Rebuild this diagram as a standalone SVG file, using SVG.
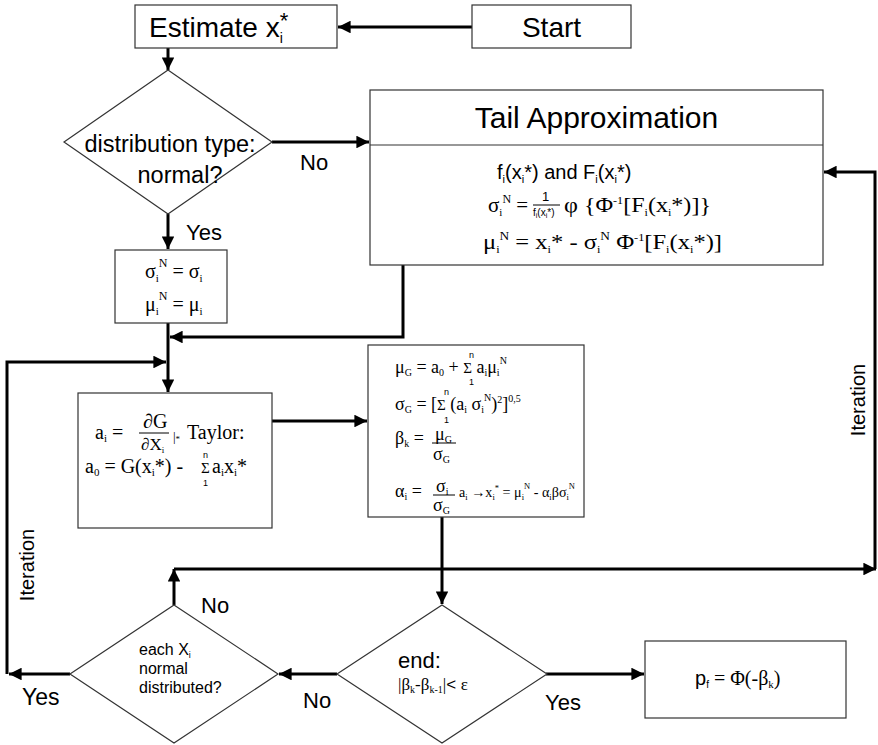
<svg xmlns="http://www.w3.org/2000/svg" width="878" height="745" viewBox="0 0 878 745">
<defs>
<style>
.box{fill:#fff;stroke:#333;stroke-width:1.2}
.ln{fill:none;stroke:#000;stroke-width:3}
.s{font-family:"Liberation Sans",Arial,sans-serif;fill:#000}
.m{font-family:"Liberation Serif","Times New Roman",serif;fill:#000}
</style>
<marker id="ah" viewBox="0 0 10 10" refX="10" refY="5" markerWidth="4.5" markerHeight="4.2" markerUnits="strokeWidth" orient="auto">
<path d="M0,0 L10,5 L0,10 z" fill="#000"/>
</marker>
</defs>
<rect width="878" height="745" fill="#fff"/>

<g id="connectors">
<line class="ln" x1="472" y1="27" x2="338" y2="27" marker-end="url(#ah)"/>
<line class="ln" x1="168" y1="48" x2="168" y2="70" marker-end="url(#ah)"/>
<line class="ln" x1="272" y1="142" x2="369" y2="142" marker-end="url(#ah)"/>
<line class="ln" x1="168" y1="214" x2="168" y2="249" marker-end="url(#ah)"/>
<polyline class="ln" points="403,265 403,337 170,337" marker-end="url(#ah)"/>
<line class="ln" x1="168" y1="322" x2="168" y2="392" marker-end="url(#ah)"/>
<polyline class="ln" points="7,674 7,362 166,362" marker-end="url(#ah)"/>
<line class="ln" x1="272" y1="421" x2="367" y2="421" marker-end="url(#ah)"/>
<line class="ln" x1="442" y1="517" x2="442" y2="604" marker-end="url(#ah)"/>
<line class="ln" x1="174" y1="605" x2="174" y2="569" marker-end="url(#ah)"/>
<line class="ln" x1="174" y1="569" x2="876" y2="569" marker-end="url(#ah)"/>
<polyline class="ln" points="875,569 875,172 824,172" marker-end="url(#ah)"/>
<line class="ln" x1="546" y1="674" x2="644" y2="674" marker-end="url(#ah)"/>
<line class="ln" x1="337" y1="674" x2="279" y2="674" marker-end="url(#ah)"/>
<line class="ln" x1="70" y1="674" x2="9" y2="674" marker-end="url(#ah)"/>
<text class="s" x="300" y="170" font-size="22">No</text>
<text class="s" x="186" y="240" font-size="22">Yes</text>
<text class="s" x="201" y="613" font-size="22">No</text>
<text class="s" x="303" y="708" font-size="22">No</text>
<text class="s" x="22" y="705" font-size="23">Yes</text>
<text class="s" x="545" y="710" font-size="22">Yes</text>
<text class="s" font-size="20" text-anchor="middle" transform="translate(34,565) rotate(-90)">Iteration</text>
<text class="s" font-size="20" text-anchor="middle" transform="translate(865,400) rotate(-90)">Iteration</text>
</g>

<g id="start">
<rect class="box" x="472" y="5" width="159" height="43"/>
<text class="s" x="551.5" y="37" font-size="28" text-anchor="middle">Start</text>
</g>

<g id="estimate">
<rect class="box" x="135" y="5" width="202" height="43"/>
<text class="s" x="149" y="37" font-size="28">Estimate x<tspan font-size="14" dy="6">i</tspan><tspan font-size="22" dy="-15" dx="-3">*</tspan></text>
</g>

<g id="distribution">
<polygon class="box" points="168,70 272,142 168,214 64,142"/>
<text class="s" x="170" y="152" font-size="23.5" text-anchor="middle">distribution type:</text>
<text class="s" x="180" y="183" font-size="23.5" text-anchor="middle">normal?</text>
</g>

<g id="tail">
<rect class="box" x="370" y="90" width="453" height="175"/>
<line x1="370" y1="145" x2="823" y2="145" stroke="#333" stroke-width="1.2"/>
<text class="s" x="596.5" y="128" font-size="30" text-anchor="middle">Tail Approximation</text>
<text class="s" x="497" y="179" font-size="20">f<tspan font-size="11" dy="4">i</tspan><tspan dy="-4">(x</tspan><tspan font-size="11" dy="4">i</tspan><tspan dy="-4">*) and F</tspan><tspan font-size="11" dy="4">i</tspan><tspan dy="-4">(x</tspan><tspan font-size="11" dy="4">i</tspan><tspan dy="-4">*)</tspan></text>
<text class="m" x="488" y="212" font-size="21">σ<tspan font-size="11" dy="4">i</tspan><tspan font-size="12" dy="-13">N</tspan><tspan dy="9">  =</tspan></text>
<text class="s" x="542" y="201" font-size="13">1</text>
<line x1="533" y1="205" x2="560" y2="205" stroke="#000" stroke-width="1"/>
<text class="s" x="533" y="216" font-size="10">f<tspan font-size="7" dy="2">i</tspan><tspan dy="-2">(x</tspan><tspan font-size="7" dy="2">i</tspan><tspan dy="-2">*)</tspan></text>
<text class="m" x="564" y="212" font-size="22" textLength="147" lengthAdjust="spacingAndGlyphs">φ {Φ<tspan font-size="11" dy="-8">-1</tspan><tspan dy="8">[F</tspan><tspan font-size="11" dy="4">i</tspan><tspan dy="-4">(x</tspan><tspan font-size="11" dy="4">i</tspan><tspan dy="-4">*)]}</tspan></text>
<text class="m" x="483" y="249" font-size="22" textLength="239" lengthAdjust="spacingAndGlyphs">μ<tspan font-size="11" dy="4">i</tspan><tspan font-size="12" dy="-13">N</tspan><tspan dy="9">  = x</tspan><tspan font-size="11" dy="4">i</tspan><tspan dy="-4">* - σ</tspan><tspan font-size="11" dy="4">i</tspan><tspan font-size="12" dy="-13">N</tspan><tspan dy="9"> Φ</tspan><tspan font-size="11" dy="-8">-1</tspan><tspan dy="8">[F</tspan><tspan font-size="11" dy="4">i</tspan><tspan dy="-4">(x</tspan><tspan font-size="11" dy="4">i</tspan><tspan dy="-4">*)]</tspan></text>
</g>

<g id="normal-params">
<rect class="box" x="115" y="250" width="112" height="73"/>
<text class="m" x="145" y="278" font-size="20">σ<tspan font-size="11" dy="4">i</tspan><tspan font-size="12" dy="-15">N</tspan><tspan dy="11">  = σ</tspan><tspan font-size="11" dy="4">i</tspan></text>
<text class="m" x="145" y="311" font-size="20">μ<tspan font-size="11" dy="4">i</tspan><tspan font-size="12" dy="-15">N</tspan><tspan dy="11">  = μ</tspan><tspan font-size="11" dy="4">i</tspan></text>
</g>

<g id="taylor">
<rect class="box" x="78" y="393" width="194" height="135"/>
<text class="m" x="95" y="439" font-size="20">a<tspan font-size="11" dy="3">i</tspan><tspan dy="-3"> = </tspan></text>
<text class="m" x="143" y="428" font-size="20">∂G</text>
<line x1="139" y1="433" x2="169" y2="433" stroke="#000" stroke-width="1"/>
<text class="m" x="141" y="450" font-size="17">∂X<tspan font-size="9" dy="3">i</tspan></text>
<text class="m" x="173" y="441" font-size="13">|<tspan font-size="9" dy="1">*</tspan></text>
<text class="m" x="187" y="439" font-size="20">Taylor:</text>
<text class="m" x="85" y="473" font-size="20">a<tspan font-size="11" dy="3">0</tspan><tspan dy="-3"> = G(x</tspan><tspan font-size="11" dy="3">i</tspan><tspan dy="-3">*) - </tspan></text>
<text class="m" x="201" y="473" font-size="15">Σ</text>
<text class="m" x="212" y="473" font-size="20">a<tspan font-size="11" dy="3">i</tspan><tspan dy="-3">x</tspan><tspan font-size="11" dy="3">i</tspan><tspan dy="-3">*</tspan></text>
<text class="s" x="203" y="458" font-size="9">n</text>
<text class="s" x="203" y="486" font-size="9">1</text>
</g>

<g id="reliability">
<rect class="box" x="368" y="345" width="216" height="172"/>
<text class="m" x="395" y="373" font-size="18">μ<tspan font-size="10" dy="3">G</tspan><tspan dy="-3"> = a</tspan><tspan font-size="10" dy="3">0</tspan><tspan dy="-3"> + </tspan><tspan font-size="15">Σ</tspan><tspan> a</tspan><tspan font-size="10" dy="3">i</tspan><tspan dy="-3">μ</tspan><tspan font-size="10" dy="3">i</tspan><tspan font-size="10" dy="-12">N</tspan></text>
<text class="s" x="469" y="358" font-size="9">n</text>
<text class="s" x="469" y="385" font-size="9">1</text>
<text class="m" x="395" y="410" font-size="18">σ<tspan font-size="10" dy="3">G</tspan><tspan dy="-3"> = [</tspan><tspan font-size="15">Σ</tspan><tspan> (a</tspan><tspan font-size="10" dy="3">i</tspan><tspan dy="-3"> σ</tspan><tspan font-size="10" dy="3">i</tspan><tspan font-size="10" dy="-12">N</tspan><tspan dy="9">)</tspan><tspan font-size="10" dy="-7">2</tspan><tspan dy="7">]</tspan><tspan font-size="10" dy="-8">0,5</tspan></text>
<text class="s" x="444" y="395" font-size="9">n</text>
<text class="s" x="444" y="423" font-size="9">1</text>
<text class="m" x="395" y="444" font-size="18">β<tspan font-size="10" dy="3">k</tspan><tspan dy="-3"> = </tspan></text>
<text class="m" x="435" y="440" font-size="18">μ<tspan font-size="10" dy="3">G</tspan></text>
<line x1="432" y1="443" x2="456" y2="443" stroke="#000" stroke-width="1"/>
<text class="m" x="433" y="460" font-size="18">σ<tspan font-size="10" dy="3">G</tspan></text>
<text class="m" x="395" y="497" font-size="18">α<tspan font-size="10" dy="3">i</tspan><tspan dy="-3"> = </tspan></text>
<text class="m" x="436" y="492" font-size="18">σ<tspan font-size="10" dy="3">i</tspan></text>
<line x1="433" y1="495" x2="455" y2="495" stroke="#000" stroke-width="1"/>
<text class="m" x="433" y="511" font-size="18">σ<tspan font-size="10" dy="3">G</tspan></text>
<text class="m" x="459" y="497" font-size="15" textLength="116" lengthAdjust="spacingAndGlyphs">a<tspan font-size="9" dy="3">i</tspan><tspan dy="-3"> →x</tspan><tspan font-size="9" dy="3">i</tspan><tspan font-size="9" dy="-9">*</tspan><tspan dy="6"> = μ</tspan><tspan font-size="9" dy="3">i</tspan><tspan font-size="9" dy="-11">N</tspan><tspan dy="8"> - α</tspan><tspan font-size="9" dy="3">i</tspan><tspan dy="-3">βσ</tspan><tspan font-size="9" dy="3">i</tspan><tspan font-size="9" dy="-11">N</tspan></text>
</g>

<g id="end-check">
<polygon class="box" points="442,605 547,674 442,743 337,674"/>
<text class="s" x="398" y="668" font-size="22">end:</text>
<text class="m" x="398" y="690" font-size="17">|β<tspan font-size="10" dy="3">k</tspan><tspan dy="-3">-β</tspan><tspan font-size="10" dy="3">k-1</tspan><tspan dy="-3">|</tspan><tspan class="s" font-size="17">&lt; </tspan><tspan>ε</tspan></text>
</g>

<g id="normal-check">
<polygon class="box" points="174,605 278,674 174,743 70,674"/>
<text class="s" x="139" y="655" font-size="16">each X<tspan font-size="9" dy="3">i</tspan></text>
<text class="s" x="139" y="674" font-size="16">normal</text>
<text class="s" x="139" y="693" font-size="16">distributed?</text>
</g>

<g id="result">
<rect class="box" x="645" y="641" width="201" height="77"/>
<text class="s" x="695" y="685" font-size="20">p<tspan font-size="10" dy="3">f</tspan><tspan class="m" dy="-3">  = Φ(-β</tspan><tspan class="m" font-size="11" dy="3">k</tspan><tspan class="m" dy="-3">)</tspan></text>
</g>
</svg>
